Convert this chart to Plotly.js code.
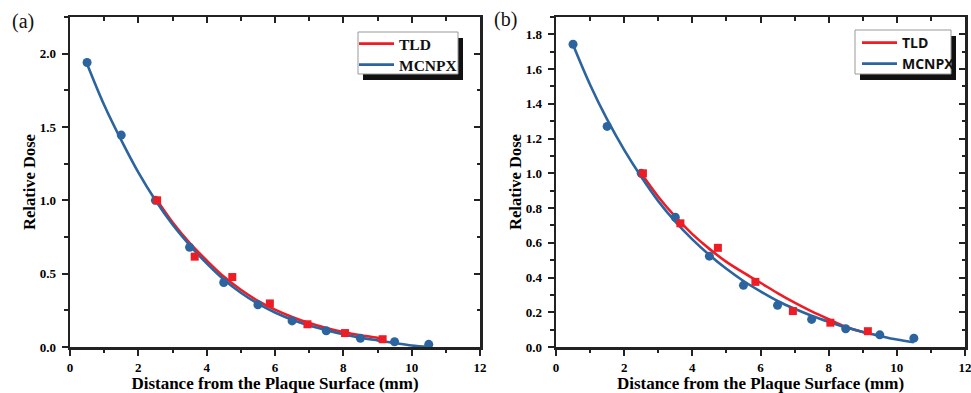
<!DOCTYPE html>
<html>
<head>
<meta charset="utf-8">
<script src="https://cdn.plot.ly/plotly-3.0.1.min.js"></script>
<style>html,body{margin:0;padding:0;background:#fff;}#chart{width:971px;height:393px;}</style>
</head>
<body>
<div id="chart"></div>
<script>
// ---------- data ----------
// Panel (a)
const mcA_x = [0.5, 1.5, 2.5, 3.5, 4.5, 5.5, 6.5, 7.5, 8.5, 9.5, 10.5];
const mcA_y = [1.94, 1.445, 1.0, 0.68, 0.44, 0.288, 0.178, 0.11, 0.06, 0.036, 0.018];
const tldA_x = [2.55, 3.65, 4.75, 5.85, 6.95, 8.05, 9.15];
const tldA_y = [1.0, 0.616, 0.477, 0.297, 0.155, 0.095, 0.053];
const mcFitA_x = [0.5, 1.0, 1.5, 2.0, 2.5, 3.0, 3.5, 4.0, 4.5, 5.0, 5.5, 6.0, 6.5, 7.0, 7.5, 8.0, 8.5, 9.0, 9.5, 10.0, 10.5];
const mcFitA_y = [1.93, 1.65, 1.41, 1.19, 1.0, 0.835, 0.695, 0.57, 0.46, 0.37, 0.295, 0.235, 0.186, 0.147, 0.115, 0.087, 0.064, 0.045, 0.027, 0.01, 0.0];
const tldFitA_x = [2.55, 3.0, 3.5, 4.0, 4.5, 5.0, 5.5, 6.0, 6.5, 7.0, 7.5, 8.0, 8.5, 9.0, 9.15];
const tldFitA_y = [1.0, 0.85, 0.71, 0.59, 0.48, 0.39, 0.315, 0.255, 0.205, 0.163, 0.13, 0.102, 0.08, 0.063, 0.058];

// Panel (b)
const mcB_x = [0.5, 1.5, 2.5, 3.5, 4.5, 5.5, 6.5, 7.5, 8.5, 9.5, 10.5];
const mcB_y = [1.743, 1.27, 1.0, 0.747, 0.523, 0.355, 0.24, 0.159, 0.105, 0.07, 0.051];
const tldB_x = [2.55, 3.65, 4.75, 5.85, 6.95, 8.05, 9.15];
const tldB_y = [1.0, 0.712, 0.571, 0.375, 0.207, 0.14, 0.091];
const mcFitB_x = [0.5, 1.0, 1.5, 2.0, 2.5, 3.0, 3.5, 4.0, 4.5, 5.0, 5.5, 6.0, 6.5, 7.0, 7.5, 8.0, 8.5, 9.0, 9.5, 10.0, 10.5];
const mcFitB_y = [1.74, 1.51, 1.31, 1.135, 0.98, 0.84, 0.722, 0.62, 0.53, 0.45, 0.38, 0.32, 0.265, 0.22, 0.18, 0.145, 0.113, 0.087, 0.064, 0.043, 0.027];
const tldFitB_x = [2.5, 3.0, 3.5, 4.0, 4.5, 5.0, 5.5, 6.0, 6.5, 7.0, 7.5, 8.0, 8.5, 9.0, 9.15];
const tldFitB_y = [1.0, 0.865, 0.75, 0.65, 0.565, 0.49, 0.428, 0.37, 0.31, 0.255, 0.205, 0.16, 0.117, 0.086, 0.08];

// tick labels
const xTickVals = [0, 2, 4, 6, 8, 10, 12];
const xTickText = ["0", "2", "4", "6", "8", "10", "12"];
const yTickValsA = [0.0, 0.5, 1.0, 1.5, 2.0];
const yTickTextA = ["0.0", "0.5", "1.0", "1.5", "2.0"];
const yTickValsB = [0.0, 0.2, 0.4, 0.6, 0.8, 1.0, 1.2, 1.4, 1.6, 1.8];
const yTickTextB = ["0.0", "0.2", "0.4", "0.6", "0.8", "1.0", "1.2", "1.4", "1.6", "1.8"];

const xTitle = "Distance from the Plaque Surface (mm)";
const yTitle = "Relative Dose";
const names = ["TLD", "MCNPX"];
const panelLabels = ["(a)", "(b)"];

// ---------- styling ----------
const BLUE = "#2c64a0";
const RED = "#ee1d25";
const W = 971, H = 393;
const M = {l: 70, r: 6, t: 17, b: 46};
const PW = W - M.l - M.r, PH = H - M.t - M.b;
const px = v => (v - M.l) / PW;
const py = v => (H - M.b - v) / PH;

const serif = "Liberation Serif";
const tickFont = {family: serif, size: 13, color: "#000", weight: "bold"};
const xTitleFont = {family: serif, size: 17, color: "#000", weight: "bold"};
const yTitleFont = {family: serif, size: 16.5, color: "#000", weight: "bold"};

function lineTrace(x, y, color, name, xa, ya, leg) {
  return {x, y, type: "scatter", mode: "lines", name, line: {color, width: 2.6, shape: "spline", smoothing: 1},
          xaxis: xa, yaxis: ya, legend: leg, hoverinfo: "skip"};
}
function markTrace(x, y, color, symbol, size, xa, ya) {
  return {x, y, type: "scatter", mode: "markers", marker: {color, symbol, size, line: {width: 0}},
          xaxis: xa, yaxis: ya, showlegend: false, hoverinfo: "skip"};
}

const traces = [
  lineTrace(tldFitA_x, tldFitA_y, RED, names[0], "x", "y", "legend"),
  lineTrace(mcFitA_x, mcFitA_y, BLUE, names[1], "x", "y", "legend2"),
  markTrace(mcA_x, mcA_y, BLUE, "circle", 9, "x", "y"),
  markTrace(tldA_x, tldA_y, RED, "square", 8, "x", "y"),
  lineTrace(tldFitB_x, tldFitB_y, RED, names[0], "x2", "y2", "legend3"),
  lineTrace(mcFitB_x, mcFitB_y, BLUE, names[1], "x2", "y2", "legend4"),
  markTrace(mcB_x, mcB_y, BLUE, "circle", 9, "x2", "y2"),
  markTrace(tldB_x, tldB_y, RED, "square", 8, "x2", "y2"),
  {x: [], y: [], type: "scatter", xaxis: "x3", yaxis: "y3", showlegend: false, hoverinfo: "skip"},
  {x: [], y: [], type: "scatter", xaxis: "x4", yaxis: "y4", showlegend: false, hoverinfo: "skip"}
];

const domA = [0, px(480)];
const domB = [px(556), 1];

function xAxis(domain, anchor) {
  return {
    domain, anchor, range: [0, 12], tickvals: xTickVals, ticktext: xTickText,
    ticks: "outside", ticklen: 6, tickwidth: 2, tickcolor: "#222",
    showline: true, linecolor: "#222", linewidth: 2.5, showgrid: false, zeroline: false,
    tickfont: tickFont, ticklabelstandoff: 1, ticklabeloverflow: "allow",
    minor: {dtick: 1, tick0: 0, ticks: "outside", ticklen: 3.5, tickwidth: 2, tickcolor: "#222", showgrid: false},
    title: {text: xTitle, font: xTitleFont, standoff: 13}, automargin: false, fixedrange: true
  };
}
function yAxis(domain, anchor, range, vals, text, minorD) {
  return {
    domain, anchor, range, tickvals: vals, ticktext: text,
    ticks: "outside", ticklen: 6, tickwidth: 2, tickcolor: "#222",
    showline: true, linecolor: "#222", linewidth: 2.5, showgrid: false, zeroline: false,
    tickfont: tickFont, ticklabelstandoff: 3, ticklabeloverflow: "allow",
    minor: {dtick: minorD, tick0: 0, ticks: "outside", ticklen: 3.5, tickwidth: 2, tickcolor: "#222", showgrid: false},
    title: {text: yTitle, font: yTitleFont, standoff: 0}, automargin: false, fixedrange: true
  };
}
function mirrorX(overlay, anchor, domain) {
  return {overlaying: overlay, anchor, side: "top", domain, range: [0, 12], tickvals: xTickVals,
    ticks: "inside", ticklen: 6, tickwidth: 2, tickcolor: "#222", showticklabels: false,
    showline: true, linecolor: "#222", linewidth: 2.5, showgrid: false, zeroline: false,
    minor: {dtick: 1, tick0: 0, ticks: "inside", ticklen: 3.5, tickwidth: 2, tickcolor: "#222", showgrid: false},
    fixedrange: true};
}
function mirrorY(overlay, anchor, range, vals, minorD) {
  return {overlaying: overlay, anchor, side: "right", range, tickvals: vals,
    ticks: "inside", ticklen: 6, tickwidth: 2, tickcolor: "#222", showticklabels: false,
    showline: true, linecolor: "#222", linewidth: 2.5, showgrid: false, zeroline: false,
    minor: {dtick: minorD, tick0: 0, ticks: "inside", ticklen: 3.5, tickwidth: 2, tickcolor: "#222", showgrid: false},
    fixedrange: true};
}

const legFontA = {family: serif, size: 15.5, color: "#111", weight: "bold"};
const legFontB = {family: "Open Sans", size: 14, color: "#111", weight: "bold"};
function leg(x, y, font) {
  return {bgcolor: "rgba(0,0,0,0)", borderwidth: 0, x: px(x), y: py(y), xanchor: "left", yanchor: "middle",
          itemwidth: 35, font, itemclick: false, itemdoubleclick: false};
}

const layout = {
  width: W, height: H, margin: M, paper_bgcolor: "#fff", plot_bgcolor: "rgba(0,0,0,0)",
  showlegend: true,
  xaxis: xAxis(domA, "y"),
  yaxis: yAxis([0, 1], "x", [0, 2.25], yTickValsA, yTickTextA, 0.25),
  xaxis2: xAxis(domB, "y2"),
  yaxis2: yAxis([0, 1], "x2", [0, 1.9], yTickValsB, yTickTextB, 0.1),
  xaxis3: mirrorX("x", "y3", domA),
  yaxis3: mirrorY("y", "x3", [0, 2.25], yTickValsA, 0.25),
  xaxis4: mirrorX("x2", "y4", domB),
  yaxis4: mirrorY("y2", "x4", [0, 1.9], yTickValsB, 0.1),
  legend: leg(354, 44, legFontA),
  legend2: leg(354, 65, legFontA),
  legend3: leg(857, 43, legFontB),
  legend4: leg(857, 64, legFontB),
  shapes: [
    {type: "rect", xref: "paper", yref: "paper", x0: px(363), x1: px(463), y0: py(80), y1: py(38),
     fillcolor: "#111", line: {width: 0}, layer: "above"},
    {type: "rect", xref: "paper", yref: "paper", x0: px(358), x1: px(458), y0: py(74), y1: py(32),
     fillcolor: "#fff", line: {width: 1, color: "#999"}, layer: "above"},
    {type: "rect", xref: "paper", yref: "paper", x0: px(860), x1: px(956), y0: py(80), y1: py(36),
     fillcolor: "#111", line: {width: 0}, layer: "above"},
    {type: "rect", xref: "paper", yref: "paper", x0: px(855), x1: px(951), y0: py(74), y1: py(30),
     fillcolor: "#fff", line: {width: 1, color: "#999"}, layer: "above"}
  ],
  annotations: [
    {text: panelLabels[0], xref: "paper", yref: "paper", x: px(10), y: py(22), xanchor: "left", yanchor: "middle",
     showarrow: false, font: {family: serif, size: 20, color: "#111"}},
    {text: panelLabels[1], xref: "paper", yref: "paper", x: px(492), y: py(20), xanchor: "left", yanchor: "middle",
     showarrow: false, font: {family: serif, size: 20, color: "#111"}}
  ]
};

Plotly.newPlot("chart", traces, layout, {staticPlot: true, displayModeBar: false});
</script>
</body>
</html>
